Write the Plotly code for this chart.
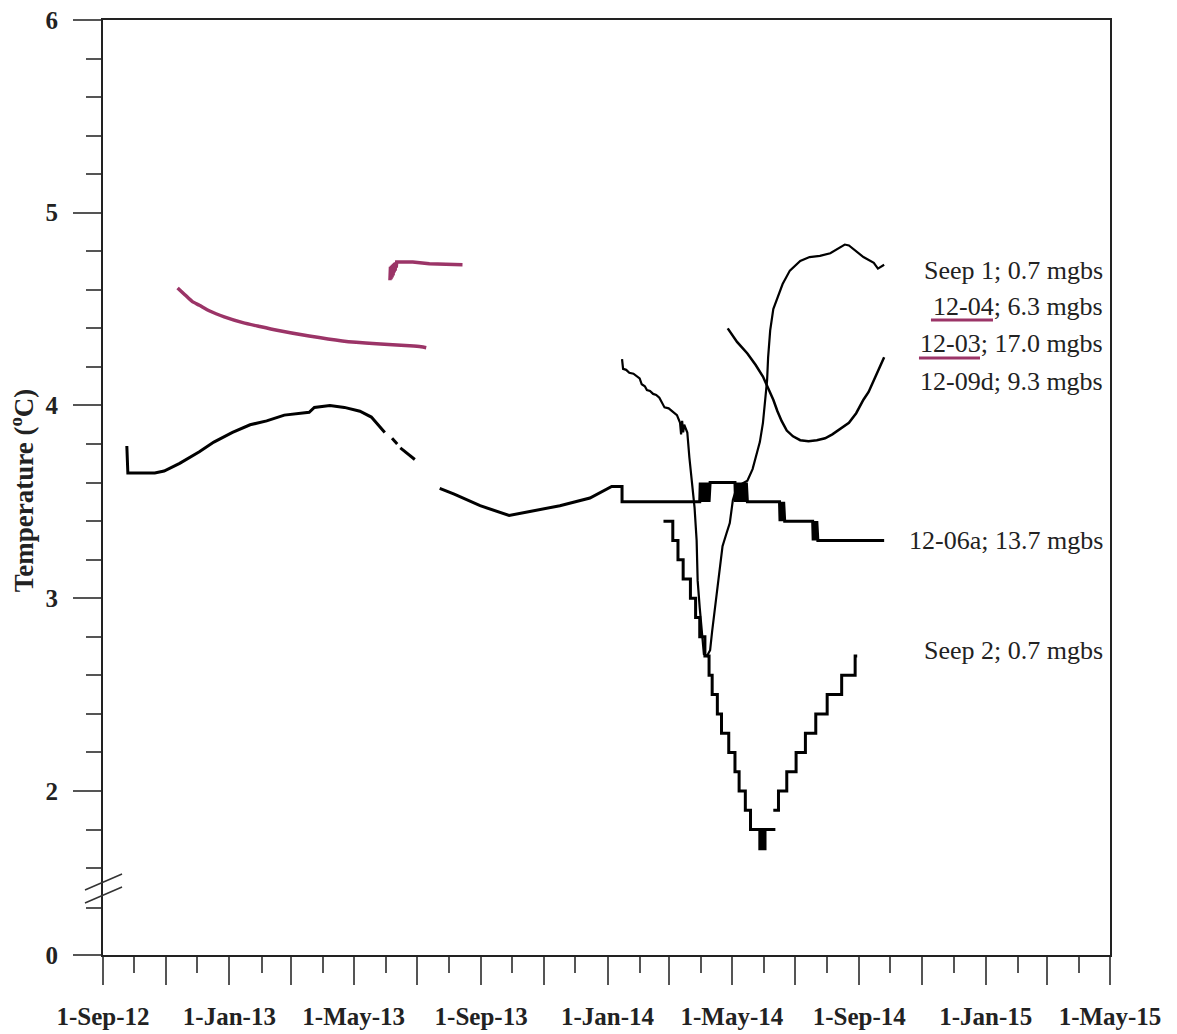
import pandas as pd
import plotly.graph_objects as go

# ---------------- series data ----------------
# 12-06a; 13.7 mgbs (None marks logger gaps; the 0.1-degree dithering shows as solid blocks)
d_1206a = [
    "2012-09-24", "2012-09-25", "2012-10-21", "2012-10-30", "2012-11-14", "2012-12-03",
    "2012-12-17", "2013-01-04", "2013-01-21", "2013-02-06", "2013-02-23", "2013-03-10",
    "2013-03-19", "2013-03-24", "2013-04-08", "2013-04-22", "2013-05-07", "2013-05-18",
    "2013-05-31", "2013-06-03", "2013-06-07", "2013-06-12", "2013-06-13", "2013-06-15",
    "2013-06-29", "2013-07-10", "2013-07-23", "2013-08-06", "2013-08-31", "2013-09-28",
    "2013-10-18", "2013-11-16", "2013-12-15", "2014-01-05", "2014-01-15", "2014-01-15",
    "2014-03-31",
    "2014-03-31 12:00", "2014-04-01", "2014-04-01 12:00", "2014-04-02", "2014-04-02 12:00",
    "2014-04-03", "2014-04-03 12:00", "2014-04-04", "2014-04-04 12:00", "2014-04-05",
    "2014-04-05 12:00", "2014-04-06", "2014-04-06 12:00", "2014-04-07", "2014-04-07 12:00",
    "2014-04-08", "2014-04-08 12:00", "2014-04-09", "2014-04-09 12:00", "2014-04-10",
    "2014-05-04",
    "2014-05-04 12:00", "2014-05-05", "2014-05-05 12:00", "2014-05-06", "2014-05-06 12:00",
    "2014-05-07", "2014-05-07 12:00", "2014-05-08", "2014-05-08 12:00", "2014-05-09",
    "2014-05-09 12:00", "2014-05-10", "2014-05-10 12:00", "2014-05-11", "2014-05-11 12:00",
    "2014-05-12", "2014-05-12 12:00", "2014-05-13", "2014-05-13 12:00", "2014-05-14",
    "2014-05-14 12:00", "2014-05-15", "2014-05-16",
    "2014-06-16", "2014-06-16 12:00", "2014-06-17", "2014-06-17 12:00", "2014-06-18",
    "2014-06-18 12:00", "2014-06-19", "2014-06-19 12:00", "2014-06-20", "2014-06-21",
    "2014-07-18", "2014-07-18 12:00", "2014-07-19", "2014-07-19 12:00", "2014-07-20",
    "2014-07-20 12:00", "2014-07-21", "2014-07-21 12:00", "2014-07-22", "2014-07-23",
    "2014-09-25",
]
t_1206a = [
    3.79, 3.65, 3.65, 3.66, 3.70, 3.76,
    3.81, 3.86, 3.90, 3.92, 3.95, 3.96,
    3.965, 3.99, 4.00, 3.99, 3.97, 3.94,
    3.86, None, 3.83, 3.80, None, 3.78,
    3.72, None, 3.57, 3.54, 3.48, 3.43,
    3.45, 3.48, 3.52, 3.58, 3.58, 3.50,
    3.50,
    3.60, 3.50, 3.60, 3.50, 3.60,
    3.50, 3.60, 3.50, 3.60, 3.50,
    3.60, 3.50, 3.60, 3.50, 3.60,
    3.50, 3.60, 3.50, 3.60, 3.60,
    3.60,
    3.50, 3.60, 3.50, 3.60, 3.50,
    3.60, 3.50, 3.60, 3.50, 3.60,
    3.50, 3.60, 3.50, 3.60, 3.50,
    3.60, 3.50, 3.60, 3.50, 3.60,
    3.50, 3.60, 3.50,
    3.50, 3.40, 3.50, 3.40, 3.50,
    3.40, 3.50, 3.40, 3.50, 3.40,
    3.40, 3.30, 3.40, 3.30, 3.40,
    3.30, 3.40, 3.30, 3.40, 3.30,
    3.30,
]

# Seep 1; 0.7 mgbs
d_seep1 = [
    "2014-01-15", "2014-01-16", "2014-01-19", "2014-01-22", "2014-01-26", "2014-01-29",
    "2014-02-01", "2014-02-03", "2014-02-06", "2014-02-08", "2014-02-11", "2014-02-14",
    "2014-02-17", "2014-02-20", "2014-02-25", "2014-03-01", "2014-03-04", "2014-03-09",
    "2014-03-12", "2014-03-13", "2014-03-14", "2014-03-15", "2014-03-16", "2014-03-19",
    "2014-03-21", "2014-03-23", "2014-03-26", "2014-03-28", "2014-03-29", "2014-03-31",
    "2014-04-02", "2014-04-04", "2014-04-07", "2014-04-10", "2014-04-12", "2014-04-16",
    "2014-04-19", "2014-04-22", "2014-04-26", "2014-04-29", "2014-05-02", "2014-05-06",
    "2014-05-16", "2014-05-21", "2014-05-26", "2014-05-28", "2014-05-31", "2014-06-02",
    "2014-06-04", "2014-06-05", "2014-06-07", "2014-06-10", "2014-06-14", "2014-06-19",
    "2014-06-26", "2014-07-06", "2014-07-15", "2014-07-25", "2014-08-04", "2014-08-14",
    "2014-08-18", "2014-08-22", "2014-08-27", "2014-09-05", "2014-09-15", "2014-09-19",
    "2014-09-25",
]
t_seep1 = [
    4.24, 4.19, 4.185, 4.17, 4.165, 4.15,
    4.14, 4.11, 4.10, 4.08, 4.075, 4.06,
    4.055, 4.04, 3.99, 3.985, 3.97, 3.95,
    3.91, 3.85, 3.92, 3.86, 3.90, 3.86,
    3.73, 3.61, 3.47, 3.30, 3.09, 2.95,
    2.82, 2.71, 2.70, 2.73, 2.83, 3.00,
    3.13, 3.27, 3.34, 3.39, 3.51, 3.58,
    3.61, 3.67, 3.77, 3.81, 3.91, 4.03,
    4.13, 4.25, 4.39, 4.50, 4.56, 4.63,
    4.70, 4.75, 4.77, 4.776, 4.79, 4.82,
    4.835, 4.83, 4.81, 4.77, 4.74, 4.71,
    4.73,
]

# 12-09d; 9.3 mgbs
d_1209d = [
    "2014-04-27", "2014-05-06", "2014-05-16", "2014-05-24", "2014-05-31", "2014-06-05",
    "2014-06-10", "2014-06-14", "2014-06-18", "2014-06-23", "2014-06-29", "2014-07-06",
    "2014-07-14", "2014-07-22", "2014-07-30", "2014-08-06", "2014-08-14", "2014-08-22",
    "2014-08-29", "2014-09-05", "2014-09-10", "2014-09-15", "2014-09-20", "2014-09-25",
]
t_1209d = [
    4.40, 4.33, 4.27, 4.21, 4.15, 4.09,
    4.03, 3.97, 3.92, 3.87, 3.84, 3.82,
    3.815, 3.82, 3.83, 3.85, 3.88, 3.91,
    3.96, 4.03, 4.07, 4.13, 4.19, 4.25,
]

# Seep 2; 0.7 mgbs (logged in 0.1-degree steps)
d_seep2 = [
    "2014-02-24", "2014-03-05", "2014-03-10", "2014-03-15", "2014-03-22", "2014-03-27",
    "2014-03-31", "2014-04-05", "2014-04-09", "2014-04-12", "2014-04-17", "2014-04-21",
    "2014-04-28", "2014-05-04", "2014-05-08", "2014-05-14", "2014-05-19", "2014-05-28",
    "2014-05-29", "2014-05-30", "2014-05-31", "2014-06-01", "2014-06-02", "2014-06-12",
    "2014-06-11", "2014-06-10", "2014-06-15", "2014-06-23", "2014-07-02", "2014-07-11",
    "2014-07-21", "2014-08-01", "2014-08-15", "2014-08-28", "2014-08-30",
]
t_seep2 = [
    3.4, 3.3, 3.2, 3.1, 3.0, 2.9,
    2.8, 2.7, 2.6, 2.5, 2.4, 2.3,
    2.2, 2.1, 2.0, 1.9, 1.8, 1.7,
    1.8, 1.7, 1.8, 1.7, 1.8, 1.8,
    None, 1.9, 2.0, 2.1, 2.2, 2.3,
    2.4, 2.5, 2.6, 2.7, 2.7,
]

# 12-04; 6.3 mgbs
d_1204 = [
    "2013-06-05", "2013-06-05 12:00", "2013-06-06", "2013-06-06 12:00", "2013-06-07",
    "2013-06-07 12:00", "2013-06-08", "2013-06-08 12:00", "2013-06-09", "2013-06-09 12:00",
    "2013-06-10", "2013-06-10 12:00", "2013-06-11", "2013-06-11 12:00", "2013-06-12",
    "2013-06-14", "2013-06-27", "2013-07-13", "2013-08-14",
]
t_1204 = [
    4.65, 4.72, 4.655, 4.725, 4.665, 4.73, 4.675, 4.735, 4.69, 4.74,
    4.70, 4.742, 4.715, 4.745, 4.745, 4.745, 4.745, 4.735, 4.73,
]

# 12-03; 17.0 mgbs
d_1203 = [
    "2012-11-12", "2012-11-19", "2012-11-26", "2012-12-03", "2012-12-13", "2012-12-27",
    "2013-01-14", "2013-01-30", "2013-02-16", "2013-03-19", "2013-04-20", "2013-05-23",
    "2013-06-24", "2013-07-05", "2013-07-10",
]
t_1203 = [
    4.61, 4.575, 4.54, 4.52, 4.49, 4.46,
    4.43, 4.41, 4.39, 4.36, 4.335, 4.32,
    4.31, 4.305, 4.30,
]

# ---------------- axes ----------------
# the y axis is broken below 2: its bottom is relabelled 0
y_bottom = 1.149
y_major_vals = [y_bottom, 2, 3, 4, 5, 6]
y_major_text = ["0", "2", "3", "4", "5", "6"]
y_minor_vals = [1.393, 1.6, 1.8, 2.2, 2.4, 2.6, 2.8, 3.2, 3.4, 3.6, 3.8,
                4.2, 4.4, 4.6, 4.8, 5.2, 5.4, 5.6, 5.8]

x_major_vals = pd.date_range("2012-09-01", "2015-05-01", freq="2MS")
x_major_text = [d.strftime("1-%b-%y") if i % 2 == 0 else "" for i, d in enumerate(x_major_vals)]
x_minor_vals = pd.date_range("2012-10-01", "2015-04-01", freq="2MS")

PURPLE = "#9b3467"
BLACK = "#000000"
SERIF = "Liberation Serif, Times New Roman, serif"

fig = go.Figure()
fig.add_trace(go.Scatter(x=d_1203, y=t_1203, mode="lines", name="12-03; 17.0 mgbs",
                         line=dict(color=PURPLE, width=3.5, shape="spline", smoothing=0.6)))
fig.add_trace(go.Scatter(x=d_1204, y=t_1204, mode="lines", name="12-04; 6.3 mgbs",
                         line=dict(color=PURPLE, width=3.5)))
fig.add_trace(go.Scatter(x=d_1206a, y=t_1206a, mode="lines", name="12-06a; 13.7 mgbs",
                         line=dict(color=BLACK, width=3), connectgaps=False))
fig.add_trace(go.Scatter(x=d_seep1, y=t_seep1, mode="lines", name="Seep 1; 0.7 mgbs",
                         line=dict(color=BLACK, width=2.2)))
fig.add_trace(go.Scatter(x=d_1209d, y=t_1209d, mode="lines", name="12-09d; 9.3 mgbs",
                         line=dict(color=BLACK, width=2.5)))
fig.add_trace(go.Scatter(x=d_seep2, y=t_seep2, mode="lines", name="Seep 2; 0.7 mgbs",
                         line=dict(color=BLACK, width=3, shape="hv"), connectgaps=False))

# series labels at the right-hand side
labels = [
    ("Seep 1; 0.7 mgbs", 4.698),
    ("12-04; 6.3 mgbs", 4.516),
    ("12-03; 17.0 mgbs", 4.324),
    ("12-09d; 9.3 mgbs", 4.127),
    ("12-06a; 13.7 mgbs", 3.302),
    ("Seep 2; 0.7 mgbs", 2.730),
]
for text, yv in labels:
    fig.add_annotation(x=0.995, xref="paper", y=yv, yref="y", text=text, showarrow=False,
                       xanchor="right", yanchor="middle",
                       font=dict(family=SERIF, size=26, color="#222222"))

# purple keys under the well names 12-04 / 12-03
fig.add_shape(type="line", xref="paper", yref="y", x0=0.8222, x1=0.8838, y0=4.444, y1=4.444,
              line=dict(color=PURPLE, width=3))
fig.add_shape(type="line", xref="paper", yref="y", x0=0.8103, x1=0.8709, y0=4.246, y1=4.246,
              line=dict(color=PURPLE, width=3))

# axis-break marks
for ya, yb in [(1.486, 1.569), (1.419, 1.502)]:
    fig.add_shape(type="line", xref="paper", yref="y", x0=-0.0179, x1=0.0189, y0=ya, y1=yb,
                  line=dict(color="#333333", width=1.5), layer="above")

# y axis title
fig.add_annotation(x=-0.0804, xref="paper", y=0.497, yref="paper",
                   text="<b>Temperature (<sup>o</sup>C)</b>", textangle=-90, showarrow=False,
                   xanchor="center", yanchor="middle",
                   font=dict(family=SERIF, size=27, color="#222222"))

fig.update_layout(
    width=1177, height=1034,
    margin=dict(l=103, r=67, t=20, b=79, autoexpand=False),
    paper_bgcolor="white", plot_bgcolor="white",
    showlegend=False,
    xaxis=dict(
        range=["2012-09-01", "2015-05-01"], automargin=False,
        tickmode="array", tickvals=x_major_vals, ticktext=x_major_text,
        ticks="outside", ticklen=28, tickwidth=2, tickcolor="#555555",
        showline=True, linecolor="#222222", linewidth=2, mirror=True,
        showgrid=False, zeroline=False,
        ticklabelstandoff=10,
        tickfont=dict(family=SERIF, size=25, color="#222222", weight="bold"),
        minor=dict(tickmode="array", tickvals=x_minor_vals, ticks="outside",
                   ticklen=16, tickwidth=2, tickcolor="#555555", showgrid=False),
    ),
    yaxis=dict(
        range=[y_bottom, 6], automargin=False,
        tickmode="array", tickvals=y_major_vals, ticktext=y_major_text,
        ticks="outside", ticklen=28, tickwidth=2, tickcolor="#555555",
        showline=True, linecolor="#222222", linewidth=2, mirror=True,
        showgrid=False, zeroline=False,
        ticklabelstandoff=10,
        tickfont=dict(family=SERIF, size=25, color="#222222", weight="bold"),
        minor=dict(tickmode="array", tickvals=y_minor_vals, ticks="outside",
                   ticklen=15, tickwidth=2, tickcolor="#555555", showgrid=False),
    ),
)

fig.write_html("out.html")
